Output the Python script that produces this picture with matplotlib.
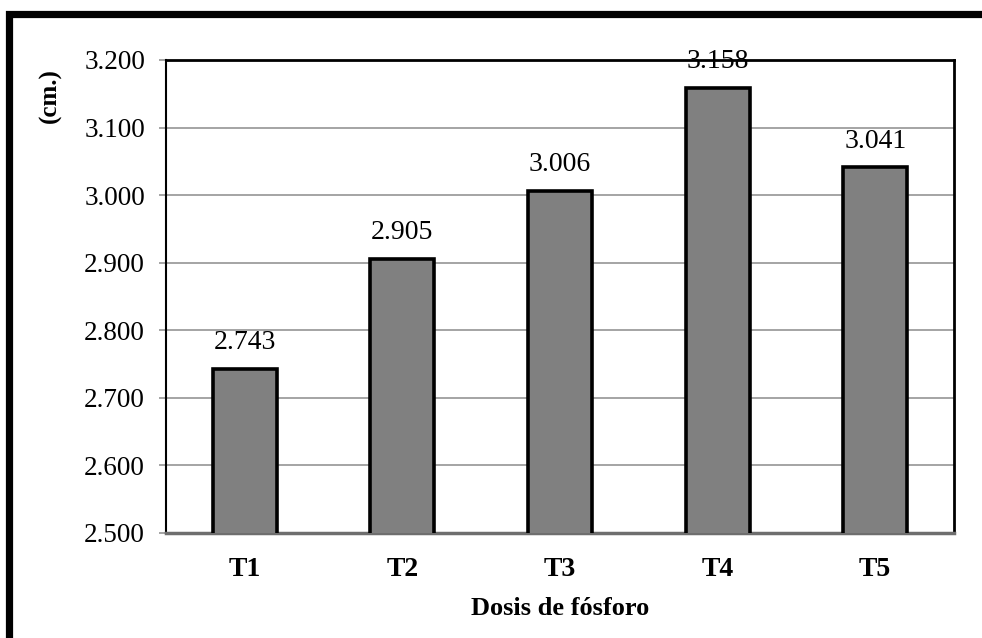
import matplotlib
matplotlib.use("Agg")
import matplotlib.pyplot as plt
from matplotlib.patches import Rectangle

plt.rcParams['font.family'] = ['Liberation Serif', 'DejaVu Serif']

tratamientos = ['T1', 'T2', 'T3', 'T4', 'T5']
altura = [2.743, 2.905, 3.006, 3.158, 3.041]
y_ticks = [2.5, 2.6, 2.7, 2.8, 2.9, 3.0, 3.1, 3.2]

fig = plt.figure(figsize=(9.82, 6.38), dpi=100)
ax = fig.add_axes([0.169, 0.1646, 0.8025, 0.7414])

# grid first so the bars sit on top
ax.set_axisbelow(True)
ax.yaxis.grid(True, color='#8c8c8c', linewidth=1.1)

x = range(len(tratamientos))
bars = ax.bar(x, altura, width=0.405, color='#808080', edgecolor='black',
              linewidth=2.6, zorder=3)

for xi, v in zip(x, altura):
    ax.annotate(f'{v:.3f}', (xi, v), xytext=(0, 10), textcoords='offset points',
                ha='center', va='bottom', fontsize=20)

ax.set_xlim(-0.5, len(tratamientos) - 0.5)
ax.set_ylim(2.5, 3.2)
ax.set_yticks(y_ticks)
ax.set_yticklabels([f'{t:.3f}' for t in y_ticks], fontsize=19.5)
ax.set_xticks(list(x))
ax.set_xticklabels(tratamientos, fontsize=20, fontweight='bold')
ax.tick_params(axis='y', length=5, width=1.1, color='#8c8c8c', pad=10)
ax.tick_params(axis='x', length=0, pad=17)

for side in ['top', 'right', 'left']:
    ax.spines[side].set_color('black')
    ax.spines[side].set_linewidth(2)
ax.spines['left'].set_linewidth(1.5)
ax.spines['bottom'].set_color('#6e6e6e')
ax.spines['bottom'].set_linewidth(2.5)

ax.set_xlabel('Dosis de fósforo', fontsize=19, fontweight='bold', labelpad=11)
fig.text(50 / 982, 1 - 96 / 638, '(cm.)', rotation=90, ha='center', va='center',
         fontsize=18, fontweight='bold')

# heavy outer frame around the chart area
frame = Rectangle((9 / 982, -0.2), 1.2, 1.2 - 13.5 / 638, transform=fig.transFigure,
                  fill=False, edgecolor='black', linewidth=5.2, clip_on=False)
fig.patches.append(frame)

fig.savefig('out.png', dpi=100)
